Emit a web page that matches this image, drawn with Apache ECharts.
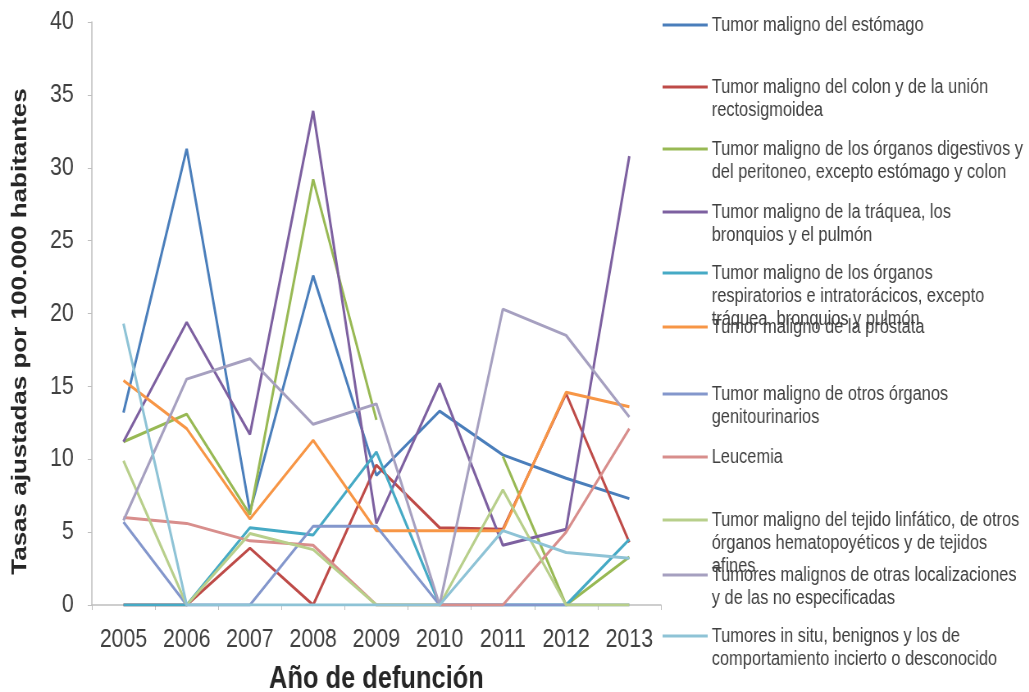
<!DOCTYPE html>
<html>
<head>
<meta charset="utf-8">
<script src="https://cdn.jsdelivr.net/npm/echarts@6/dist/echarts.min.js"></script>
<style>
  html, body { margin: 0; padding: 0; background: #ffffff; overflow: hidden; width: 1029px; height: 692px; }
  /* El gráfico se dibuja más ancho y se comprime en horizontal (letra estrecha) */
  #chart { width: 1255px; height: 692px; transform: scaleX(0.82); transform-origin: 0 0; }
</style>
</head>
<body>
<div id="chart"></div>
<script>
// Años de defunción (eje X)
const years = ['2005', '2006', '2007', '2008', '2009', '2010', '2011', '2012', '2013'];

// Tasas ajustadas por 100.000 habitantes, una serie por causa
const estomago        = [13.2, 31.3, 6.4, 22.6, 8.9, 13.3, 10.3, 8.7, 7.3];
const colon           = [0, 0, 3.9, 0, 9.6, 5.3, 5.2, 14.5, 4.3];
const digestivos      = [11.2, 13.1, 6.2, 29.2, 12.7, null, 10.2, 0, 3.3];
const traquea         = [11.2, 19.4, 11.7, 33.9, 5.6, 15.2, 4.1, 5.2, 30.8];
const respiratorios   = [0, 0, 5.3, 4.8, 10.5, 0, 0, 0, 4.5];
const prostata        = [15.4, 12.1, 5.9, 11.3, 5.1, 5.1, 5.1, 14.6, 13.6];
const genitourinarios = [5.7, 0, 0, 5.4, 5.4, 0, 0, 0, 0];
const leucemia        = [6.0, 5.6, 4.4, 4.1, 0, 0, 0, 5.0, 12.1];
const linfatico       = [9.9, 0, 4.9, 3.8, 0, 0, 7.9, 0, 0];
const otras           = [5.8, 15.5, 16.9, 12.4, 13.8, 0, 20.3, 18.5, 12.9];
const insitu          = [19.3, 0, 0, 0, 0, 0, 5.1, 3.6, 3.2];

// Eje Y
const yTicks = { min: 0, max: 40, interval: 5 };

// Nombres de las series y su texto partido en líneas para la leyenda
const seriesNames = [
  'Tumor maligno del estómago',
  'Tumor maligno del colon y de la unión rectosigmoidea',
  'Tumor maligno de los órganos digestivos y del peritoneo, excepto estómago y colon',
  'Tumor maligno de la tráquea, los bronquios y el pulmón',
  'Tumor maligno de los órganos respiratorios e intratorácicos, excepto tráquea, bronquios y pulmón',
  'Tumor maligno de la próstata',
  'Tumor maligno de otros órganos genitourinarios',
  'Leucemia',
  'Tumor maligno del tejido linfático, de otros órganos hematopoyéticos y de tejidos afines',
  'Tumores malignos de otras localizaciones y de las no especificadas',
  'Tumores in situ, benignos y los de comportamiento incierto o desconocido'
];
const legendLines = [
  ['Tumor maligno del estómago'],
  ['Tumor maligno del colon y de la unión', 'rectosigmoidea'],
  ['Tumor maligno de los órganos digestivos y', 'del peritoneo, excepto estómago y colon'],
  ['Tumor maligno de la tráquea, los', 'bronquios y el pulmón'],
  ['Tumor maligno de los órganos', 'respiratorios e intratorácicos, excepto', 'tráquea, bronquios y pulmón'],
  ['Tumor maligno de la próstata'],
  ['Tumor maligno de otros órganos', 'genitourinarios'],
  ['Leucemia'],
  ['Tumor maligno del tejido linfático, de otros', 'órganos hematopoyéticos y de tejidos', 'afines'],
  ['Tumores malignos de otras localizaciones', 'y de las no especificadas'],
  ['Tumores in situ, benignos y los de', 'comportamiento incierto o desconocido']
];
const seriesData = [estomago, colon, digestivos, traquea, respiratorios, prostata,
                    genitourinarios, leucemia, linfatico, otras, insitu];
const colors = ['#4A7EBB', '#BE4B48', '#98B954', '#7D60A0', '#46AAC5', '#F79646',
                '#8497CC', '#D88E8C', '#B8CF8B', '#A6A0C0', '#8EC3D6'];

// Altura (centro de la línea de muestra) de cada entrada de la leyenda
const legendY = [25, 87, 149, 212, 273, 327, 394, 457, 520, 575, 636];

const font = "'Liberation Sans', Arial, sans-serif";
const LH = 23;

// Cada entrada lleva su propia leyenda; se anteponen líneas vacías para que
// la muestra quede a la altura de la primera línea del texto.
const legends = seriesNames.map(function (name, i) {
  const n = legendLines[i].length;
  return {
    data: [name],
    left: 808,
    top: legendY[i] - (2 * n - 1) * LH / 2,
    orient: 'vertical',
    icon: 'rect',
    itemWidth: 55,
    itemHeight: 3,
    itemGap: 0,
    padding: 0,
    selectedMode: false,
    formatter: function () {
      return new Array(n).join('\n') + legendLines[i].join('\n');
    },
    textStyle: { fontFamily: font, fontSize: 20, color: '#404040', lineHeight: LH }
  };
});

const chart = echarts.init(document.getElementById('chart'), null, { renderer: 'canvas' });
chart.setOption({
  backgroundColor: '#ffffff',
  animation: false,
  color: colors,
  grid: { left: 112, right: 449, top: 22, bottom: 87, containLabel: false, outerBoundsMode: 'none' },
  legend: legends,
  xAxis: {
    type: 'category',
    data: years,
    boundaryGap: true,
    name: 'Año de defunción',
    nameLocation: 'middle',
    nameGap: 59,
    nameTextStyle: { fontFamily: font, fontWeight: 'bold', fontSize: 31, color: '#262626' },
    axisLine: { lineStyle: { color: '#BFBFBF', width: 1.5 } },
    axisTick: { show: true, length: 5, lineStyle: { color: '#BFBFBF' } },
    axisLabel: { fontFamily: font, fontSize: 26, color: '#404040', margin: 22, interval: 0 },
    splitLine: { show: false }
  },
  yAxis: {
    type: 'value',
    min: yTicks.min,
    max: yTicks.max,
    interval: yTicks.interval,
    name: 'Tasas ajustadas por 100.000 habitantes',
    nameLocation: 'middle',
    nameRotate: 90,
    nameGap: 74,
    nameTextStyle: { fontFamily: font, fontWeight: 'bold', fontSize: 26, color: '#262626', padding: [0, 36, 0, 0] },
    axisLine: { show: true, lineStyle: { color: '#BFBFBF', width: 1.5 } },
    axisTick: { show: true, length: 5, lineStyle: { color: '#BFBFBF' } },
    axisLabel: { fontFamily: font, fontSize: 26, color: '#404040', margin: 22 },
    splitLine: { show: false }
  },
  series: seriesNames.map(function (name, i) {
    return {
      name: name,
      type: 'line',
      data: seriesData[i],
      showSymbol: false,
      symbol: 'none',
      connectNulls: false,
      lineStyle: { width: 3, color: colors[i] },
      itemStyle: { color: colors[i] }
    };
  })
});
</script>
</body>
</html>
